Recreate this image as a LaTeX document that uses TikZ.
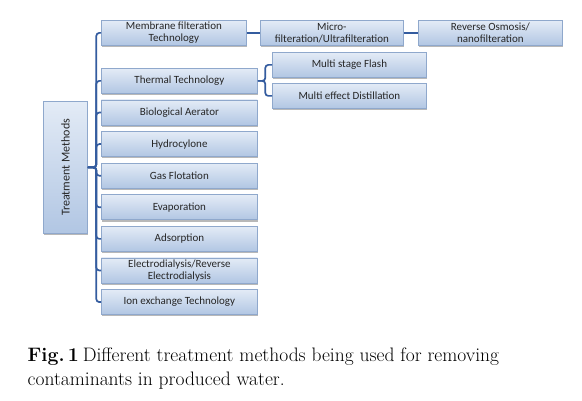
\documentclass[tikz,border=0pt]{standalone}
\usepackage{fontspec}
\setmainfont{Latin Modern Roman}
\newfontfamily\boxfont{Carlito}
\usetikzlibrary{shadows}
\definecolor{linec}{HTML}{345C9F}
\definecolor{boxdraw}{HTML}{8FA8CC}
\definecolor{boxtop}{HTML}{E3EBF6}
\definecolor{boxbot}{HTML}{B1C6E3}
\tikzset{
  tbox/.style={draw=boxdraw, line width=0.8pt, top color=boxtop, bottom color=boxbot,
    drop shadow={shadow xshift=0.8pt, shadow yshift=-1.8pt, fill=black!55, opacity=0.5},
    font=\boxfont\fontsize{11}{11.8}\selectfont, text=black!85, align=center, inner sep=0pt, anchor=north west},
  conn/.style={draw=linec, line width=1.7pt, rounded corners=3pt},
}
\begin{document}
\begin{tikzpicture}[x=1pt, y=-1pt]
\useasboundingbox (0,0) rectangle (582,401);
\fill[white] (0,0) rectangle (582,401);
% left root
\node[tbox, minimum width=44pt, minimum height=132pt, font=\boxfont\fontsize{12}{13}\selectfont] (tm) at (43,101) {\rotatebox{90}{Treatment Methods}};
% column of methods
\node[tbox, minimum width=145pt, minimum height=25pt] (mem) at (101,20) {Membrane filteration\\Technology};
\node[tbox, minimum width=156pt, minimum height=25pt] (therm) at (101,68) {Thermal Technology};
\node[tbox, minimum width=156pt, minimum height=25pt] (bio) at (101,99.6) {Biological Aerator};
\node[tbox, minimum width=156pt, minimum height=25pt] (hyd) at (101,131.2) {Hydrocylone};
\node[tbox, minimum width=156pt, minimum height=25pt] (gas) at (101,162.8) {Gas Flotation};
\node[tbox, minimum width=156pt, minimum height=25pt] (eva) at (101,194.4) {Evaporation};
\node[tbox, minimum width=156pt, minimum height=25pt] (ads) at (101,226) {Adsorption};
\node[tbox, minimum width=156pt, minimum height=25pt] (ele) at (101,257.6) {Electrodialysis/Reverse\\Electrodialysis};
\node[tbox, minimum width=156pt, minimum height=25pt] (ion) at (101,289.2) {Ion exchange Technology};
% membrane chain
\node[tbox, minimum width=143pt, minimum height=25pt] (mic) at (260,20) {Micro-\\filteration/Ultrafilteration};
\node[tbox, minimum width=144pt, minimum height=25pt] (ro) at (418,20) {Reverse Osmosis/\\nanofilteration};
% thermal branch
\node[tbox, minimum width=154pt, minimum height=25pt] (msf) at (272,52) {Multi stage Flash};
\node[tbox, minimum width=154pt, minimum height=25pt] (med) at (272,83) {Multi effect Distillation};
% connectors
\foreach \n in {mem,therm,bio,hyd,gas,eva,ads,ele,ion}
  \draw[conn] (tm.east) -- ++(8.5,0) |- (\n.west);
\draw[conn] (mem.east) -- (mic.west);
\draw[conn] (mic.east) -- (ro.west);
\draw[conn] (therm.east) -- ++(7.5,0) |- (msf.west);
\draw[conn] (therm.east) -- ++(7.5,0) |- (med.west);
% caption
\node[anchor=base west, inner sep=0pt, font=\fontsize{19.5}{22}\selectfont] (cap1) at (27.5,361.7) {\textbf{Fig.\,1}\hspace{0.2em}Different treatment methods being used for removing};
\node[anchor=base west, inner sep=0pt, font=\fontsize{19.5}{22}\selectfont] (cap2) at (27.5,385.7) {contaminants in produced water.};
\end{tikzpicture}
\end{document}
